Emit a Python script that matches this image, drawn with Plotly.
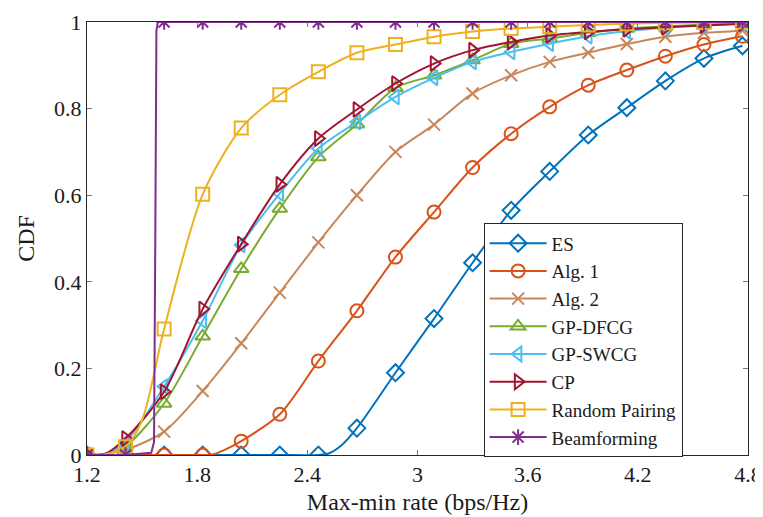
import plotly.graph_objects as go

# ---------------- data ----------------
x_grid = [1.2, 1.41, 1.62, 1.83, 2.04, 2.25, 2.46, 2.67, 2.88, 3.09,
          3.30, 3.51, 3.72, 3.93, 4.14, 4.35, 4.56, 4.77]

es = [0, 0, 0, 0, 0, 0, 0, 0.062, 0.19, 0.315, 0.444, 0.565, 0.655,
      0.739, 0.802, 0.864, 0.916, 0.945]
alg1 = [0, 0, 0, 0, 0.032, 0.094, 0.217, 0.333, 0.457, 0.561, 0.664,
        0.742, 0.804, 0.854, 0.889, 0.921, 0.948, 0.967]
alg2 = [0, 0.012, 0.054, 0.148, 0.258, 0.375, 0.491, 0.60, 0.70, 0.763,
        0.835, 0.877, 0.908, 0.929, 0.949, 0.966, 0.975, 0.98]
gp_dfcg = [0, 0.02, 0.119, 0.274, 0.43, 0.569, 0.688, 0.764, 0.848, 0.877,
           0.912, 0.95, 0.962, 0.975, 0.985, 0.99, 0.994, 0.997]
gp_swcg = [0, 0.03, 0.158, 0.31, 0.485, 0.604, 0.708, 0.769, 0.827, 0.871,
           0.908, 0.931, 0.95, 0.967, 0.979, 0.987, 0.992, 0.996]
cp = [0, 0.038, 0.146, 0.337, 0.487, 0.625, 0.731, 0.798, 0.858, 0.904,
      0.935, 0.954, 0.969, 0.977, 0.983, 0.988, 0.992, 0.996]
random_pairing = [0, 0.019, 0.291, 0.602, 0.755, 0.832, 0.885, 0.929, 0.948,
                  0.966, 0.978, 0.985, 0.989, 0.993, 0.996, 0.998, 0.999, 1.0]
beamforming = [0, 0, 1, 1, 1, 1, 1, 1, 1, 1, 1, 1, 1, 1, 1, 1, 1, 1]

es_knots = [(2.52, 0.004), (2.58, 0.02)]
alg1_knots = [(1.89, 0.002), (1.95, 0.012)]
alg2_knots = [(1.3, 0.003)]
dfcg_knots = [(1.3, 0.002)]
swcg_knots = [(1.3, 0.003)]
cp_knots = [(1.3, 0.003)]
random_knots = [(1.3, 0.002), (1.5, 0.08)]
beam_knots = [(1.55, 0.005), (1.565, 0.03), (1.572, 0.5), (1.578, 0.98), (1.586, 1.0)]

names = ["ES", "Alg. 1", "Alg. 2", "GP-DFCG", "GP-SWCG", "CP",
         "Random Pairing", "Beamforming"]
series = [es, alg1, alg2, gp_dfcg, gp_swcg, cp, random_pairing, beamforming]
knots = [es_knots, alg1_knots, alg2_knots, dfcg_knots, swcg_knots, cp_knots,
         random_knots, beam_knots]
colors = ["#0072BD", "#D95319", "#C8875A", "#77AC30", "#4DBEEE", "#A2142F",
          "#EDB120", "#7E2F8E"]
symbols = ["diamond-open", "circle-open", "x-thin", "triangle-up-open",
           "triangle-left-open", "triangle-right-open", "square-open", "asterisk"]
sizes = [13, 13, 12, 13, 13, 13, 13, 13]

FONT = "'Liberation Serif', 'Times New Roman', Times, serif"
TXT = "#1a1a1a"

fig = go.Figure()
for name, ys, kn, col, sym, sz in zip(names, series, knots, colors, symbols, sizes):
    pts = sorted(list(zip(x_grid, ys)) + list(kn))
    lx = [p[0] for p in pts]
    ly = [p[1] for p in pts]
    shape = "linear" if name == "Beamforming" else "spline"
    fig.add_trace(go.Scatter(
        x=lx, y=ly, mode="lines", line=dict(color=col, width=2, shape=shape,
                                           smoothing=0.8),
        showlegend=False, legendgroup=name, hoverinfo="skip"))
    marker = dict(symbol=sym, size=sz, color=col,
                  line=dict(color=col, width=2))
    fig.add_trace(go.Scatter(
        x=x_grid, y=ys, mode="markers", marker=marker,
        showlegend=False, legendgroup=name))
    fig.add_trace(go.Scatter(
        x=[None], y=[None], mode="lines+markers", name=name,
        line=dict(color=col, width=2), marker=marker, legendgroup=name))

axis_common = dict(
    showline=True, linecolor="#262626", linewidth=1, mirror="ticks",
    ticks="inside", ticklen=5, tickcolor="#777777", tickwidth=1,
    showgrid=False, zeroline=False, automargin=False,
    tickfont=dict(family=FONT, size=22, color=TXT),
)

# the page adds an 8px body margin, so the figure is offset to compensate
fig.update_layout(
    width=763, height=509,
    margin=dict(l=79, r=23, t=14, b=62),
    paper_bgcolor="white", plot_bgcolor="white",
    font=dict(family=FONT, color=TXT),
    xaxis=dict(range=[1.2, 4.8], tickvals=[1.2, 1.8, 2.4, 3.0, 3.6, 4.2, 4.8],
               ticktext=["1.2", "1.8", "2.4", "3", "3.6", "4.2", "4.8"],
               title=dict(text="Max-min rate (bps/Hz)", standoff=6,
                          font=dict(family=FONT, size=24, color=TXT)),
               **axis_common),
    yaxis=dict(range=[0, 1], tickvals=[0, 0.2, 0.4, 0.6, 0.8, 1],
               ticktext=["0", "0.2", "0.4", "0.6", "0.8", "1"],
               title=dict(text="CDF", standoff=12,
                          font=dict(family=FONT, size=24, color=TXT)),
               **axis_common),
    legend=dict(x=0.60, y=0.535, xanchor="left", yanchor="top",
                bgcolor="white", bordercolor="#262626", borderwidth=1,
                font=dict(family=FONT, size=19, color=TXT),
                itemwidth=57, tracegroupgap=0),
)

fig.write_html("out.html")
